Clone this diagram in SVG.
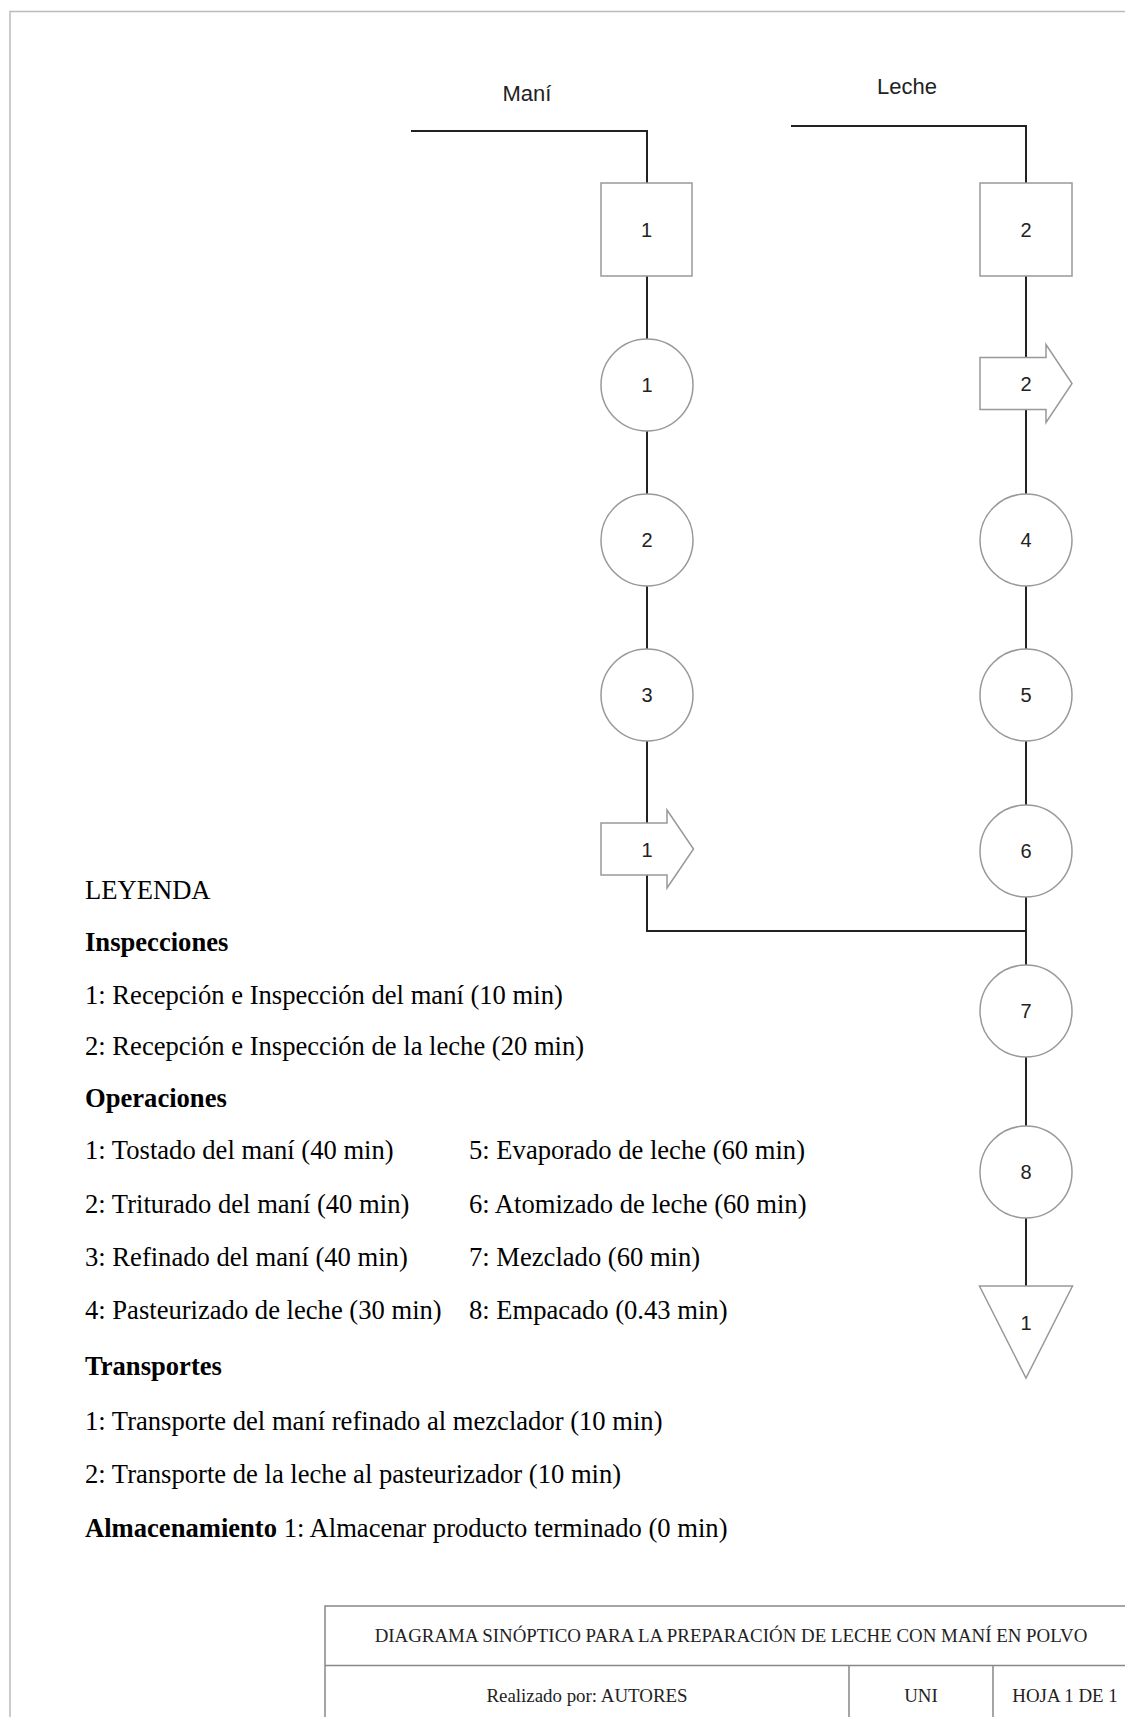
<svg xmlns="http://www.w3.org/2000/svg" width="1125" height="1717" viewBox="0 0 1125 1717">
<style>
.shape{fill:#fff;stroke:#999;stroke-width:1.5}
.conn{fill:none;stroke:#222;stroke-width:2}
.num{font-family:"Liberation Sans",Arial,sans-serif;font-size:20px;fill:#222;text-anchor:middle;dominant-baseline:central}
.lbl{font-family:"Liberation Sans",Arial,sans-serif;font-size:22px;fill:#222;text-anchor:middle}
.leg{font-family:"Liberation Serif","Times New Roman",serif;font-size:26.6px;fill:#000}
.b{font-weight:bold}
.tb{font-family:"Liberation Serif","Times New Roman",serif;font-size:18.9px;fill:#222;text-anchor:middle}
.frame{fill:none;stroke:#bbb;stroke-width:1.5}
.tbl{fill:none;stroke:#888;stroke-width:1.5}
</style>
<path class="frame" d="M10,1717 V11.5 H1125"/>
<text class="lbl" x="527" y="101">Maní</text>
<text class="lbl" x="907" y="94">Leche</text>
<g id="connectors">
<path class="conn" d="M411,131 H647 V931 H1026"/>
<path class="conn" d="M791,126 H1026 V1286"/>
</g>
<g id="insp1"><rect class="shape" x="601" y="183" width="91" height="93"/><text class="num" x="646.5" y="230">1</text></g>
<g id="insp2"><rect class="shape" x="980" y="183" width="92" height="93"/><text class="num" x="1026" y="230">2</text></g>
<g id="op1"><circle class="shape" cx="647" cy="385" r="46"/><text class="num" x="647" y="385">1</text></g>
<g id="op2"><circle class="shape" cx="647" cy="540" r="46"/><text class="num" x="647" y="540">2</text></g>
<g id="op3"><circle class="shape" cx="647" cy="695" r="46"/><text class="num" x="647" y="695">3</text></g>
<g id="trans1"><path class="shape" d="M601,823 H667 V810 L693.5,849 L667,888 V875 H601 Z"/><text class="num" x="647" y="850">1</text></g>
<g id="trans2"><path class="shape" d="M980,357.5 H1046 V344.5 L1072,383.5 L1046,422.5 V409.5 H980 Z"/><text class="num" x="1026" y="384">2</text></g>
<g id="op4"><circle class="shape" cx="1026" cy="540" r="46"/><text class="num" x="1026" y="540">4</text></g>
<g id="op5"><circle class="shape" cx="1026" cy="695" r="46"/><text class="num" x="1026" y="695">5</text></g>
<g id="op6"><circle class="shape" cx="1026" cy="851" r="46"/><text class="num" x="1026" y="851">6</text></g>
<g id="op7"><circle class="shape" cx="1026" cy="1011" r="46"/><text class="num" x="1026" y="1011">7</text></g>
<g id="op8"><circle class="shape" cx="1026" cy="1172" r="46"/><text class="num" x="1026" y="1172">8</text></g>
<g id="alm1"><path class="shape" d="M979.5,1286 H1072.5 L1026,1378 Z"/><text class="num" x="1026" y="1323">1</text></g>
<g id="legend">
<text class="leg" x="85" y="899">LEYENDA</text>
<text class="leg b" x="85" y="951">Inspecciones</text>
<text class="leg" x="85" y="1004">1: Recepción e Inspección del maní (10 min)</text>
<text class="leg" x="85" y="1055">2: Recepción e Inspección de la leche (20 min)</text>
<text class="leg b" x="85" y="1107">Operaciones</text>
<text class="leg" x="85" y="1159">1: Tostado del maní (40 min)</text>
<text class="leg" x="469" y="1159">5: Evaporado de leche (60 min)</text>
<text class="leg" x="85" y="1213">2: Triturado del maní (40 min)</text>
<text class="leg" x="469" y="1213">6: Atomizado de leche (60 min)</text>
<text class="leg" x="85" y="1266">3: Refinado del maní (40 min)</text>
<text class="leg" x="469" y="1266">7: Mezclado (60 min)</text>
<text class="leg" x="85" y="1319">4: Pasteurizado de leche (30 min)</text>
<text class="leg" x="469" y="1319">8: Empacado (0.43 min)</text>
<text class="leg b" x="85" y="1375">Transportes</text>
<text class="leg" x="85" y="1430">1: Transporte del maní refinado al mezclador (10 min)</text>
<text class="leg" x="85" y="1483">2: Transporte de la leche al pasteurizador (10 min)</text>
<text class="leg" x="85" y="1537"><tspan class="b">Almacenamiento</tspan> 1: Almacenar producto terminado (0 min)</text>
</g>
<g id="titleblock">
<path class="tbl" d="M1125,1606 H325 V1717 M325,1665.5 H1125 M849,1665.5 V1717 M993,1665.5 V1717"/>
<text class="tb" x="731" y="1642">DIAGRAMA SINÓPTICO PARA LA PREPARACIÓN DE LECHE CON MANÍ EN POLVO</text>
<text class="tb" x="587" y="1702">Realizado por: AUTORES</text>
<text class="tb" x="921" y="1702">UNI</text>
<text class="tb" x="1065" y="1702">HOJA 1 DE 1</text>
</g>
</svg>
